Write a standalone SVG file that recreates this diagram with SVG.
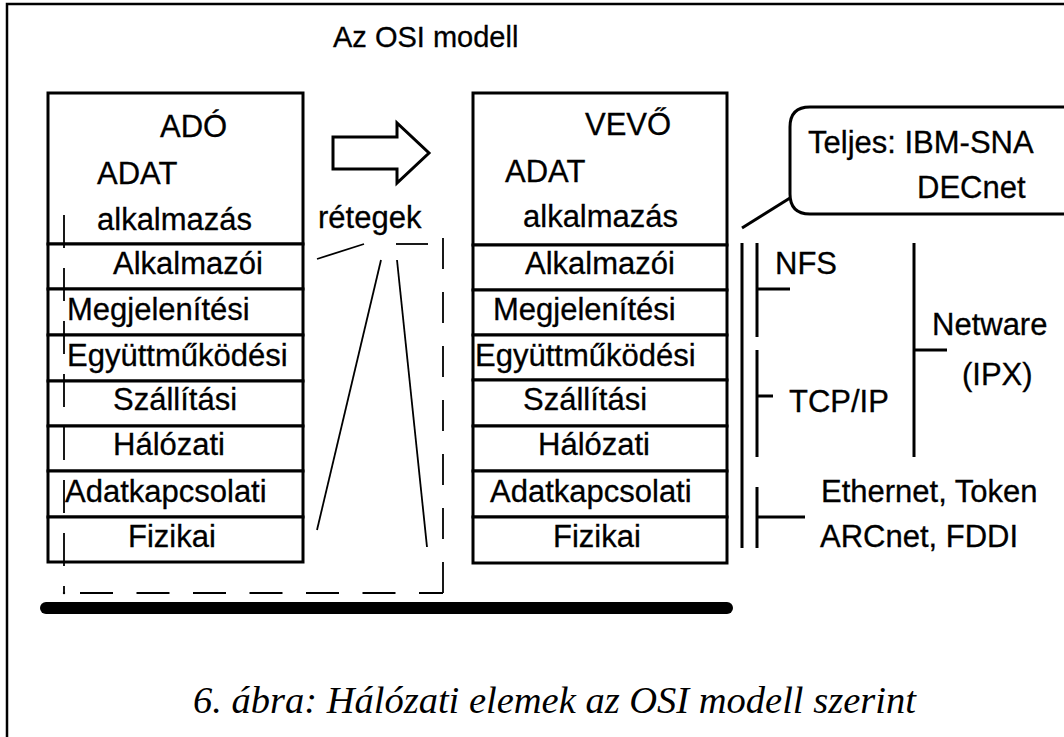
<svg xmlns="http://www.w3.org/2000/svg" width="1064" height="737" viewBox="0 0 1064 737">
<style>
text{font-family:"Liberation Sans",Arial,sans-serif;font-size:31px;fill:#000;stroke:#000;stroke-width:0.3}
.box{fill:#fff;stroke:#000;stroke-width:3}
.thin{stroke:#000;stroke-width:1.8;fill:none}
.bar{stroke:#000;stroke-width:3;fill:none}
.cap{font-family:"Liberation Serif","Times New Roman",serif;font-style:italic;font-size:38.5px;stroke-width:0}
</style>
<rect x="7" y="4" width="1070" height="760" fill="#fff" stroke="#000" stroke-width="2.5"/>
<text id="title" x="333" y="47" style="font-size:29px">Az OSI modell</text>

<g id="dashed-frame">
<line class="thin" x1="443" y1="238" x2="443" y2="593" stroke-dasharray="31 23"/>
<line class="thin" x1="80" y1="593" x2="443" y2="593" stroke-dasharray="33 23.5"/>
<line class="thin" x1="396" y1="244" x2="428" y2="244"/>
<circle cx="64" cy="593" r="1.2" fill="#000"/>
</g>

<g id="ado">
<rect class="box" x="48" y="93" width="255" height="151"/>
<text x="160" y="137">ADÓ</text>
<text x="97" y="184">ADAT</text>
<text x="97" y="230">alkalmazás</text>
</g>
<g id="ado-alkalmazoi"><rect class="box" x="48" y="244" width="255" height="45"/><text x="113" y="274">Alkalmazói</text></g>
<g id="ado-megjelenitesi"><rect class="box" x="48" y="289" width="255" height="46"/><text x="67" y="320">Megjelenítési</text></g>
<g id="ado-egyuttmukodesi"><rect class="box" x="48" y="335" width="255" height="46"/><text x="67" y="366">Együttműködési</text></g>
<g id="ado-szallitasi"><rect class="box" x="48" y="381" width="255" height="45"/><text x="113" y="410">Szállítási</text></g>
<g id="ado-halozati"><rect class="box" x="48" y="426" width="255" height="45"/><text x="113" y="455">Hálózati</text></g>
<g id="ado-adatkapcsolati"><rect class="box" x="48" y="471" width="255" height="46"/><text x="65" y="502">Adatkapcsolati</text></g>
<g id="ado-fizikai"><rect class="box" x="48" y="517" width="255" height="45"/><text x="128" y="547">Fizikai</text></g>
<g id="ado-dash-overlay">
<line class="thin" x1="64" y1="215" x2="64" y2="592" stroke-dasharray="33 20"/>
</g>

<g id="arrow">
<polygon points="333,137 397,137 397,123 429,153 397,183 397,169 333,169" fill="#fff" stroke="#000" stroke-width="3" stroke-linejoin="miter"/>
</g>
<g id="retegek">
<text x="318" y="228">rétegek</text>
</g>

<g id="vevo">
<rect class="box" x="473" y="93" width="254" height="152"/>
<text x="585" y="135">VEVŐ</text>
<text x="505" y="182">ADAT</text>
<text x="523" y="227">alkalmazás</text>
</g>
<g id="vevo-alkalmazoi"><rect class="box" x="473" y="245" width="254" height="45"/><text x="525" y="274">Alkalmazói</text></g>
<g id="vevo-megjelenitesi"><rect class="box" x="473" y="290" width="254" height="45"/><text x="493" y="320">Megjelenítési</text></g>
<g id="vevo-egyuttmukodesi"><rect class="box" x="473" y="335" width="254" height="45"/><text x="475" y="366">Együttműködési</text></g>
<g id="vevo-szallitasi"><rect class="box" x="473" y="380" width="254" height="46"/><text x="523" y="410">Szállítási</text></g>
<g id="vevo-halozati"><rect class="box" x="473" y="426" width="254" height="45"/><text x="538" y="455">Hálózati</text></g>
<g id="vevo-adatkapcsolati"><rect class="box" x="473" y="471" width="254" height="46"/><text x="490" y="502">Adatkapcsolati</text></g>
<g id="vevo-fizikai"><rect class="box" x="473" y="517" width="254" height="46"/><text x="553" y="547">Fizikai</text></g>

<g id="callout">
<path d="M1070 107 H810 Q790 107 790 127 V194 Q790 214 810 214 H1070" fill="none" stroke="#000" stroke-width="3"/>
<text x="808" y="153">Teljes: IBM-SNA</text>
<text x="917" y="198">DECnet</text>
</g>

<g id="nfs"><text x="775" y="274">NFS</text></g>
<g id="tcpip"><text x="789" y="412">TCP/IP</text></g>
<g id="netware"><text x="932" y="335">Netware</text><text x="962" y="385">(IPX)</text></g>
<g id="ethernet"><text x="821" y="502">Ethernet, Token</text><text x="820" y="547">ARCnet, FDDI</text></g>

<g id="connectors">
<line class="thin" x1="317" y1="259" x2="364" y2="244"/>
<line class="thin" x1="381" y1="260" x2="317" y2="530"/>
<line class="thin" x1="397" y1="260" x2="427" y2="547"/>
<line x1="790" y1="198" x2="742" y2="228" stroke="#000" stroke-width="3"/>
<line class="bar" x1="742" y1="243" x2="742" y2="548"/>
<line class="bar" x1="757" y1="243" x2="757" y2="337"/>
<line class="bar" x1="757" y1="350" x2="757" y2="457"/>
<line class="bar" x1="757" y1="487" x2="757" y2="548"/>
<line class="bar" x1="757" y1="289" x2="790" y2="289"/>
<line class="bar" x1="757" y1="396" x2="773" y2="396"/>
<line class="bar" x1="757" y1="517" x2="805" y2="517"/>
<line class="bar" x1="914" y1="243" x2="914" y2="457"/>
<line class="bar" x1="914" y1="350" x2="947" y2="350"/>
<line x1="46" y1="608" x2="727" y2="608" stroke="#000" stroke-width="12" stroke-linecap="round"/>
</g>

<text id="caption" class="cap" x="193" y="713">6. ábra: Hálózati elemek az OSI modell szerint</text>
</svg>
